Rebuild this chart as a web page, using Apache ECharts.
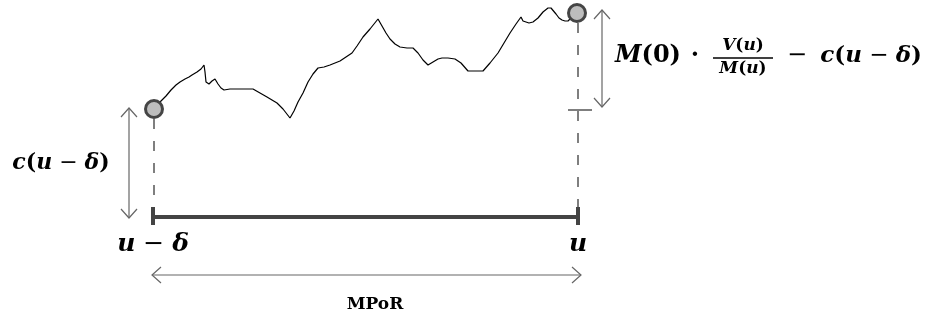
<!DOCTYPE html>
<html><head><meta charset="utf-8">
<script src="https://cdn.jsdelivr.net/npm/echarts@6/dist/echarts.min.js"></script>
<style>html,body{margin:0;padding:0;background:#fff}#c{width:928px;height:323px}</style>
</head><body><div id="c"></div>
<script>
// Random-walk path (diagram units: x to the right, y downward)
const pathX = [154,158,162,166,171,176,180,185,189,192,197,201,204,205,206,209,212,215,218,221,224,230,240,253,260,267,272,277,283,290,294,298,303,308,313,318,324,330,335,340,346,352,357,363,370,374,378,382,386,390,395,400,407,413,418,423,428,433,438,442,448,455,461,468,475,483,490,498,504,510,516,521,523,525,529,533,538,543,548,551,553,556,559,562,565,568,572,577];
const pathY = [109,104,100,96,90,85,82,79,77,75,72,69,65,72,82,84,81,79,84,88,90,89,89,89,93,97,100,103,109,118,111,102,93,82,74,68,67,65,63,61,57,53,46,37,29,24,19,26,33,39,44,47,48,48,53,60,65,62,59,58,58,59,63,71,71,71,63,53,43,33,24,17,21,23,23,22,18,12,8,8,10,14,18,20,21,21,17,13];
const endX = [154, 577];
const endY = [109, 13];
// segments [x1,y1,x2,y2]
const barSegs = [[153,217,578,217],[153,207,153,225],[578,207,578,225]];
const dashSegs = [[154,119,154,207],[578,23,578,207]];
const tickSegs = [[568,110,592,110]];
const arrowSegs = [[129,108,129,218],[602,10,602,107],[152,275,581,275]];

function segSeries(data, style, arrows) {
  return {
    type: 'custom', data: data, encode: {x:[0,2], y:[1,3]}, silent: true,
    renderItem: function (params, api) {
      const p1 = api.coord([api.value(0), api.value(1)]);
      const p2 = api.coord([api.value(2), api.value(3)]);
      const children = [{type:'line', shape:{x1:p1[0],y1:p1[1],x2:p2[0],y2:p2[1]}, style: style}];
      if (arrows) {
        const dx = p2[0]-p1[0], dy = p2[1]-p1[1], len = Math.hypot(dx,dy);
        const ux = dx/len, uy = dy/len, nx = -uy, ny = ux, L = 9, W = 8;
        [[p2,1],[p1,-1]].forEach(function(e){
          const p = e[0], s = e[1];
          children.push({type:'polyline', shape:{points:[
            [p[0]-s*ux*L+nx*W, p[1]-s*uy*L+ny*W], [p[0],p[1]], [p[0]-s*ux*L-nx*W, p[1]-s*uy*L-ny*W]]},
            style: style});
        });
      }
      return {type:'group', children: children};
    }
  };
}

const chart = echarts.init(document.getElementById('c'));
function rich(size) {
  const base = {fontFamily:'DejaVu Serif', fontWeight:'bold', fontSize:size, color:'#000'};
  return {
    i: Object.assign({}, base, {fontStyle:'italic'}),
    n: Object.assign({}, base, {fontStyle:'normal'}),
    m: Object.assign({}, base, {fontStyle:'normal', fontWeight:'normal'})
  };
}
function txt(x, y, text, size, align) {
  return {type:'text', x:x, y:y, style:{text:text, rich:rich(size), align:align||'center', verticalAlign:'middle'}};
}
chart.setOption({
  animation: false,
  grid: {left:0, right:0, top:0, bottom:0},
  xAxis: {type:'value', min:0, max:928, show:false},
  yAxis: {type:'value', min:0, max:323, inverse:true, show:false},
  series: [
    segSeries(dashSegs, {stroke:'#555', lineWidth:1.5, lineDash:[10,12]}),
    segSeries(barSegs, {stroke:'#444', lineWidth:4}),
    segSeries(tickSegs, {stroke:'#555', lineWidth:1.5}),
    segSeries(arrowSegs, {stroke:'#666', lineWidth:1.2, fill:null}, true),
    {type:'line', data: pathX.map((x,i)=>[x,pathY[i]]), symbol:'none', lineStyle:{color:'#000', width:1.2}, silent:true},
    {type:'scatter', data: endX.map((x,i)=>[x,endY[i]]), symbol:'circle', symbolSize:17,
     itemStyle:{color:'#bdbdbd', borderColor:'#454545', borderWidth:3, opacity:1}, silent:true, z:5}
  ],
  graphic: [
    txt(61, 163, '{i|c}{n|(}{i|u}{m| − }{i|δ}{n|)}', 22),
    txt(153, 244, '{i|u}{m| − }{i|δ}', 25),
    txt(578, 244, '{i|u}', 25),
    {type:'text', x:375, y:305, style:{text:'MPoR', font:'bold 17px "DejaVu Serif"', fill:'#000', align:'center', verticalAlign:'middle'}},
    txt(615, 56, '{i|M}{n|(0)}', 24, 'left'),
    txt(695, 56, '{n|·}', 24),
    txt(743, 46, '{i|V}{n|(}{i|u}{n|)}', 17),
    {type:'line', shape:{x1:713, y1:58, x2:773, y2:58}, style:{stroke:'#000', lineWidth:1.3}},
    txt(743, 69, '{i|M}{n|(}{i|u}{n|)}', 17),
    txt(797, 56, '{m|−}', 24),
    txt(922, 56, '{i|c}{n|(}{i|u}{m| − }{i|δ}{n|)}', 23, 'right')
  ]
});
</script></body></html>
